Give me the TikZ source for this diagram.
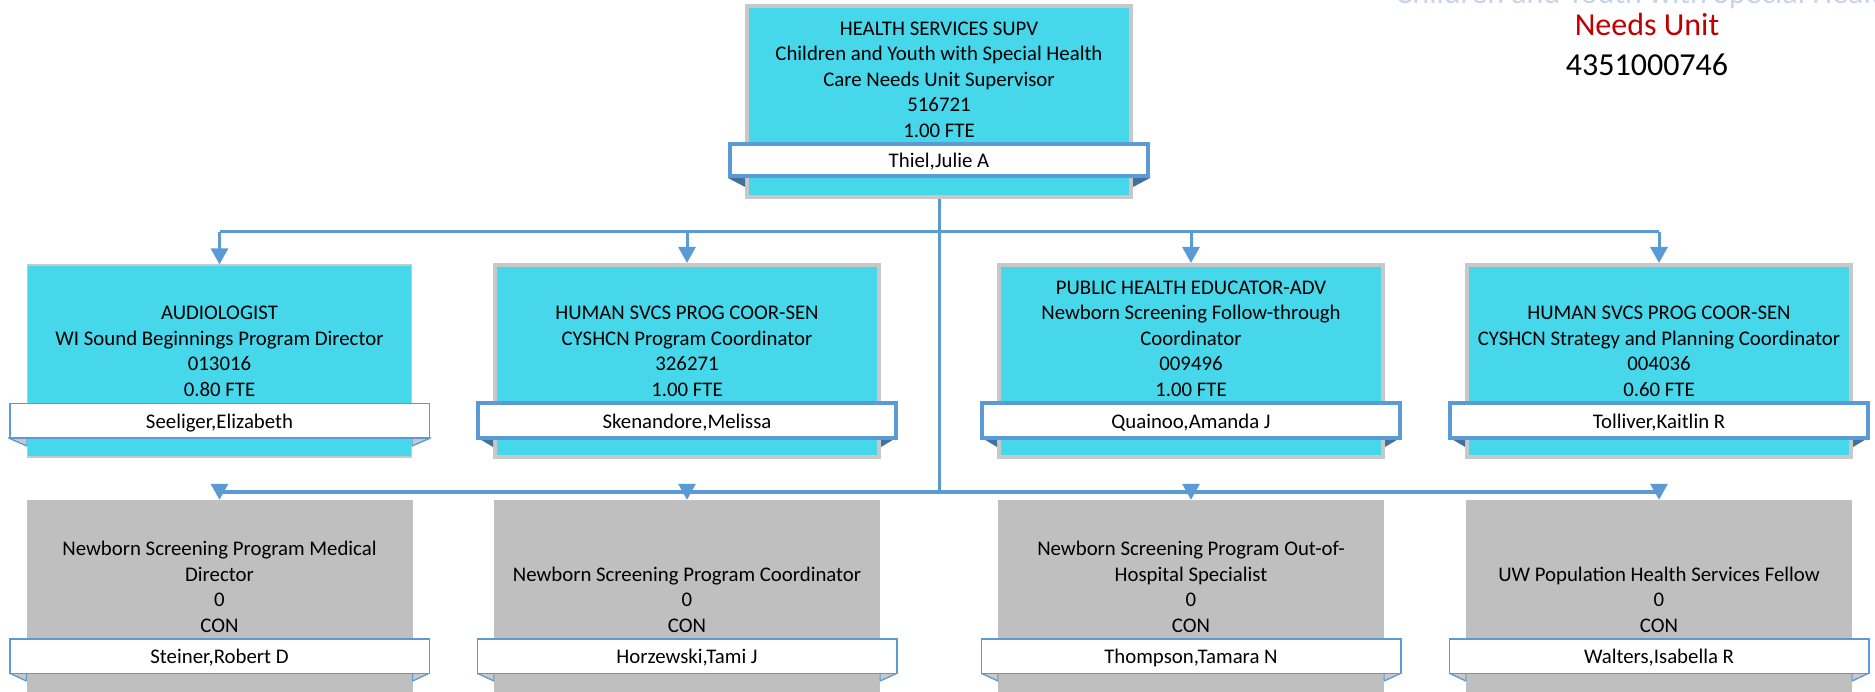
\documentclass[tikz,border=0pt]{standalone}
\usepackage{fontspec}
\setmainfont{Carlito}
\usetikzlibrary{arrows.meta}
\definecolor{cyanfill}{HTML}{46D7EB}
\definecolor{boxgray}{HTML}{C8C8C8}
\definecolor{graybox}{HTML}{BFBFBF}
\definecolor{lineblue}{HTML}{5B9BD5}
\definecolor{flapblue}{HTML}{41719C}
\definecolor{titlered}{HTML}{C00000}
\definecolor{paleblue}{HTML}{C9D3EA}
\newcommand\orgfont{\fontsize{20.8pt}{25.5pt}\selectfont}
\newcommand\ttlfont{\fontsize{32pt}{40pt}\selectfont}
\tikzset{
  conn/.style={draw=lineblue, line width=3pt},
  arr/.style={conn, -{Triangle[width=17pt,length=16pt]}},
  cbox/.style={draw=boxgray, line width=4pt, fill=cyanfill, minimum width=384pt, minimum height=192pt, inner sep=0pt},
  cboxthin/.style={cbox, line width=1.2pt},
  gbox/.style={fill=graybox, minimum width=386pt, minimum height=220pt, inner sep=0pt},
  nbox/.style={draw=lineblue, line width=4pt, fill=white, minimum width=418pt, minimum height=34.5pt, inner sep=0pt, text height=15pt, text depth=0pt, font=\orgfont},
  nboxthin/.style={nbox, line width=1.5pt, minimum width=419.5pt},
  txt/.style={align=center, inner sep=0pt, font=\orgfont, anchor=south},
  ttl/.style={font=\ttlfont, anchor=base, inner sep=0pt},
  flapthick/.style={fill=flapblue},
  flapthin/.style={fill=boxgray, draw=lineblue, line width=1pt, line join=round},
}
\begin{document}
\begin{tikzpicture}[x=1pt,y=-1pt]
\useasboundingbox (0,0) rectangle (1875,692);
\clip (0,0) rectangle (1875,692);
\fill[white] (0,0) rectangle (1875,692);

% title
\node[ttl, text=paleblue] (ttl1) at (1647,4) {Children and Youth with Special Health};
\node[ttl, text=titlered] (ttl2) at (1647,36) {Needs Unit};
\node[ttl, text=black] (ttl3) at (1647,76) {4351000746};

% hubs
\coordinate (hA) at (939,232);
\coordinate (hB) at (939,492);

% top box
\node[cbox, minimum height=191pt] (top) at (939,101.5) {};
\node[nbox, minimum height=32pt] (topn) at (939,160) {Thiel,Julie A};
\fill[flapthick] (topn.south west) -- (top.west |- topn.south) -- ([yshift=-9pt]top.west |- topn.south) -- cycle;
\fill[flapthick] (topn.south east) -- (top.east |- topn.south) -- ([yshift=-9pt]top.east |- topn.south) -- cycle;
\node[nbox, minimum height=32pt] at (topn) {Thiel,Julie A};
\node[txt] (topt) at (939,145.25) {\strut HEALTH SERVICES SUPV\\Children and Youth with Special Health\\Care Needs Unit Supervisor\\516721\\1.00 FTE\strut};

% connectors
\draw[conn] (top.south) -- (hB);

% second row
\node[cboxthin] (a1) at (219.5,361) {};
\node[cbox] (a2) at (687,361) {};
\node[cbox] (a3) at (1191,361) {};
\node[cbox] (a4) at (1659,361) {};

\draw[conn] (a1.north |- hA) -- (a4.north |- hA);
\foreach \b in {a1,a2,a3,a4} {\draw[arr] (\b.north |- hA) -- (\b.north);}

\coordinate (a1s) at (219.5,420.75);
\fill[flapthin] (8.5,438) -- (a1.west |- 0,438) -- (a1.west |- 0,446) -- cycle;
\fill[flapthin] (430.5,438) -- (a1.east |- 0,438) -- (a1.east |- 0,446) -- cycle;
\draw[lineblue, line width=1pt] (8.5,438) -- (a1.west |- 0,446) (430.5,438) -- (a1.east |- 0,446);
\node[nboxthin] (a1n) at (a1s) {Seeliger,Elizabeth};
\node[txt] (a1t) at (219.5,404.25) {\strut AUDIOLOGIST\\WI Sound Beginnings Program Director\\013016\\0.80 FTE\strut};

\foreach \b/\cx/\nm in {a2/687/{Skenandore,Melissa}, a3/1191/{Quainoo,Amanda J}, a4/1659/{Tolliver,Kaitlin R}} {
  \coordinate (\b s) at (\cx,420.75);
  \fill[flapthick] (\cx-209,438) -- (\b.west |- 0,438) -- (\b.west |- 0,447) -- cycle;
  \fill[flapthick] (\cx+209,438) -- (\b.east |- 0,438) -- (\b.east |- 0,447) -- cycle;
  \node[nbox] (\b n) at (\b s) {\nm};
}
\node[txt] (a2t) at (687,404.25) {\strut HUMAN SVCS PROG COOR-SEN\\CYSHCN Program Coordinator\\326271\\1.00 FTE\strut};
\node[txt] (a3t) at (1191,404.25) {\strut PUBLIC HEALTH EDUCATOR-ADV\\Newborn Screening Follow-through\\Coordinator\\009496\\1.00 FTE\strut};
\node[txt] (a4t) at (1659,404.25) {\strut HUMAN SVCS PROG COOR-SEN\\CYSHCN Strategy and Planning Coordinator\\004036\\0.60 FTE\strut};

% third row
\node[gbox] (c1) at (219.5,610) {};
\node[gbox] (c2) at (687,610) {};
\node[gbox] (c3) at (1191,610) {};
\node[gbox] (c4) at (1659,610) {};

\draw[conn] (c1.north |- hB) -- (c4.north |- hB);
\foreach \b in {c1,c2,c3,c4} {\draw[arr] (\b.north |- hB) -- (\b.north);}

\foreach \b/\cx/\nm in {c1/219.5/{Steiner,Robert D}, c2/687/{Horzewski,Tami J}, c3/1191/{Thompson,Tamara N}, c4/1659/{Walters,Isabella R}} {
  \coordinate (\b s) at (\cx,656);
  \fill[flapthin] (\cx-209.75,673.25) -- (\b.west |- 0,673.25) -- (\b.west |- 0,681) -- cycle;
  \fill[flapthin] (\cx+209.75,673.25) -- (\b.east |- 0,673.25) -- (\b.east |- 0,681) -- cycle;
  \draw[lineblue, line width=1pt] (\cx-209.75,673.25) -- (\b.west |- 0,681) (\cx+209.75,673.25) -- (\b.east |- 0,681);
  \node[nboxthin] (\b n) at (\b s) {\nm};
}
\node[txt] (c1t) at (219.5,640.25) {\strut Newborn Screening Program Medical\\Director\\0\\CON\strut};
\node[txt] (c2t) at (687,640.25) {\strut Newborn Screening Program Coordinator\\0\\CON\strut};
\node[txt] (c3t) at (1191,640.25) {\strut Newborn Screening Program Out-of-\\Hospital Specialist\\0\\CON\strut};
\node[txt] (c4t) at (1659,640.25) {\strut UW Population Health Services Fellow\\0\\CON\strut};
\end{tikzpicture}
\end{document}
